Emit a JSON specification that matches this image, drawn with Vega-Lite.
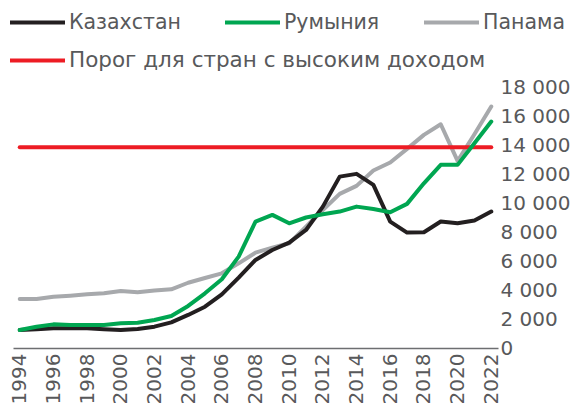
{
  "$schema": "https://vega.github.io/schema/vega-lite/v6.json",
  "autosize": {"type": "none"},
  "width": 485,
  "height": 261,
  "padding": {"left": 13, "top": 87, "right": 78, "bottom": 63},
  "background": "white",
  "config": {
    "font": "DejaVu Sans",
    "view": {"stroke": null}
  },
  "datasets": {
    "d": [
      {"year": 1994, "s": "Казахстан", "v": 1240}, {"year": 1995, "s": "Казахстан", "v": 1290}, {"year": 1996, "s": "Казахстан", "v": 1360}, {"year": 1997, "s": "Казахстан", "v": 1360}, {"year": 1998, "s": "Казахстан", "v": 1360}, {"year": 1999, "s": "Казахстан", "v": 1290}, {"year": 2000, "s": "Казахстан", "v": 1240}, {"year": 2001, "s": "Казахстан", "v": 1310}, {"year": 2002, "s": "Казахстан", "v": 1470}, {"year": 2003, "s": "Казахстан", "v": 1770}, {"year": 2004, "s": "Казахстан", "v": 2280}, {"year": 2005, "s": "Казахстан", "v": 2850}, {"year": 2006, "s": "Казахстан", "v": 3700}, {"year": 2007, "s": "Казахстан", "v": 4850}, {"year": 2008, "s": "Казахстан", "v": 6070}, {"year": 2009, "s": "Казахстан", "v": 6760}, {"year": 2010, "s": "Казахстан", "v": 7270}, {"year": 2011, "s": "Казахстан", "v": 8140}, {"year": 2012, "s": "Казахстан", "v": 9750}, {"year": 2013, "s": "Казахстан", "v": 11820}, {"year": 2014, "s": "Казахстан", "v": 12010}, {"year": 2015, "s": "Казахстан", "v": 11250}, {"year": 2016, "s": "Казахстан", "v": 8720}, {"year": 2017, "s": "Казахстан", "v": 7960}, {"year": 2018, "s": "Казахстан", "v": 7980}, {"year": 2019, "s": "Казахстан", "v": 8720}, {"year": 2020, "s": "Казахстан", "v": 8600}, {"year": 2021, "s": "Казахстан", "v": 8790}, {"year": 2022, "s": "Казахстан", "v": 9410},
      {"year": 1994, "s": "Румыния", "v": 1240}, {"year": 1995, "s": "Румыния", "v": 1470}, {"year": 1996, "s": "Румыния", "v": 1630}, {"year": 1997, "s": "Румыния", "v": 1590}, {"year": 1998, "s": "Румыния", "v": 1590}, {"year": 1999, "s": "Румыния", "v": 1590}, {"year": 2000, "s": "Румыния", "v": 1700}, {"year": 2001, "s": "Румыния", "v": 1740}, {"year": 2002, "s": "Румыния", "v": 1930}, {"year": 2003, "s": "Румыния", "v": 2210}, {"year": 2004, "s": "Румыния", "v": 2900}, {"year": 2005, "s": "Румыния", "v": 3770}, {"year": 2006, "s": "Румыния", "v": 4740}, {"year": 2007, "s": "Румыния", "v": 6300}, {"year": 2008, "s": "Румыния", "v": 8720}, {"year": 2009, "s": "Румыния", "v": 9180}, {"year": 2010, "s": "Румыния", "v": 8600}, {"year": 2011, "s": "Румыния", "v": 9000}, {"year": 2012, "s": "Румыния", "v": 9220}, {"year": 2013, "s": "Румыния", "v": 9410}, {"year": 2014, "s": "Румыния", "v": 9750}, {"year": 2015, "s": "Румыния", "v": 9580}, {"year": 2016, "s": "Румыния", "v": 9360}, {"year": 2017, "s": "Румыния", "v": 9940}, {"year": 2018, "s": "Румыния", "v": 11360}, {"year": 2019, "s": "Румыния", "v": 12630}, {"year": 2020, "s": "Румыния", "v": 12630}, {"year": 2021, "s": "Румыния", "v": 14120}, {"year": 2022, "s": "Румыния", "v": 15620},
      {"year": 1994, "s": "Панама", "v": 3381}, {"year": 1995, "s": "Панама", "v": 3380}, {"year": 1996, "s": "Панама", "v": 3540}, {"year": 1997, "s": "Панама", "v": 3610}, {"year": 1998, "s": "Панама", "v": 3700}, {"year": 1999, "s": "Панама", "v": 3770}, {"year": 2000, "s": "Панама", "v": 3930}, {"year": 2001, "s": "Панама", "v": 3840}, {"year": 2002, "s": "Панама", "v": 3960}, {"year": 2003, "s": "Панама", "v": 4050}, {"year": 2004, "s": "Панама", "v": 4500}, {"year": 2005, "s": "Панама", "v": 4830}, {"year": 2006, "s": "Панама", "v": 5150}, {"year": 2007, "s": "Панама", "v": 5840}, {"year": 2008, "s": "Панама", "v": 6580}, {"year": 2009, "s": "Панама", "v": 6920}, {"year": 2010, "s": "Панама", "v": 7220}, {"year": 2011, "s": "Панама", "v": 8370}, {"year": 2012, "s": "Панама", "v": 9520}, {"year": 2013, "s": "Панама", "v": 10630}, {"year": 2014, "s": "Панама", "v": 11180}, {"year": 2015, "s": "Панама", "v": 12240}, {"year": 2016, "s": "Панама", "v": 12790}, {"year": 2017, "s": "Панама", "v": 13730}, {"year": 2018, "s": "Панама", "v": 14700}, {"year": 2019, "s": "Панама", "v": 15430}, {"year": 2020, "s": "Панама", "v": 12900}, {"year": 2021, "s": "Панама", "v": 14740}, {"year": 2022, "s": "Панама", "v": 16650}
    ],
    "t": [
      {"year": 1994, "s": "Порог для стран с высоким доходом", "v": 13845},
      {"year": 2022, "s": "Порог для стран с высоким доходом", "v": 13845}
    ]
  },
  "encoding": {
    "x": {
      "field": "year", "type": "ordinal",
      "scale": {"type": "point", "padding": 0.4},
      "axis": {
        "title": null,
        "values": [1994, 1996, 1998, 2000, 2002, 2004, 2006, 2008, 2010, 2012, 2014, 2016, 2018, 2020, 2022],
        "labelAngle": 270,
        "labelFontSize": 20,
        "labelColor": "#58595b",
        "labelPadding": 5,
        "ticks": false,
        "domainColor": "#6d6e71",
        "domainWidth": 1.5,
        "grid": false
      }
    },
    "y": {
      "field": "v", "type": "quantitative",
      "scale": {"domain": [0, 18000], "nice": false},
      "axis": {
        "title": null,
        "orient": "right",
        "values": [0, 2000, 4000, 6000, 8000, 10000, 12000, 14000, 16000, 18000],
        "labelExpr": "replace(format(datum.value, ','), ',', ' ')",
        "labelFontSize": 20,
        "labelColor": "#58595b",
        "labelPadding": 2,
        "ticks": false,
        "domain": false,
        "grid": false
      }
    }
  },
  "layer": [
    {
      "data": {"name": "d"},
      "transform": [{"filter": "datum.s === 'Панама'"}],
      "mark": {"type": "line", "strokeWidth": 4, "strokeCap": "round", "strokeJoin": "round"},
      "encoding": {
        "color": {
          "field": "s", "type": "nominal",
          "scale": {
            "domain": ["Казахстан", "Румыния", "Панама"],
            "range": ["#231f20", "#00a651", "#a7a9ac"]
          },
          "legend": {
            "title": null,
            "orient": "none",
            "legendX": -5,
            "legendY": -94,
            "direction": "horizontal",
            "columns": 3,
            "symbolType": "stroke",
            "symbolSize": 3025,
            "symbolStrokeWidth": 4,
            "labelFontSize": 20.5,
            "labelColor": "#58595b",
            "labelOffset": 2,
            "columnPadding": 36,
            "labelLimit": 500
          }
        }
      }
    },
    {
      "data": {"name": "t"},
      "mark": {"type": "line", "strokeWidth": 4, "strokeCap": "round"},
      "encoding": {
        "stroke": {
          "field": "s", "type": "nominal",
          "scale": {"domain": ["Порог для стран с высоким доходом"], "range": ["#ed1c24"]},
          "legend": {
            "title": null,
            "orient": "none",
            "legendX": -5,
            "legendY": -56,
            "symbolType": "stroke",
            "symbolSize": 3025,
            "symbolStrokeWidth": 4,
            "labelFontSize": 21.5,
            "labelColor": "#58595b",
            "labelOffset": 2,
            "labelLimit": 500
          }
        }
      }
    },
    {
      "data": {"name": "d"},
      "transform": [{"filter": "datum.s !== 'Панама'"}],
      "mark": {"type": "line", "strokeWidth": 4, "strokeCap": "round", "strokeJoin": "round"},
      "encoding": {
        "color": {"field": "s", "type": "nominal"}
      }
    }
  ]
}
